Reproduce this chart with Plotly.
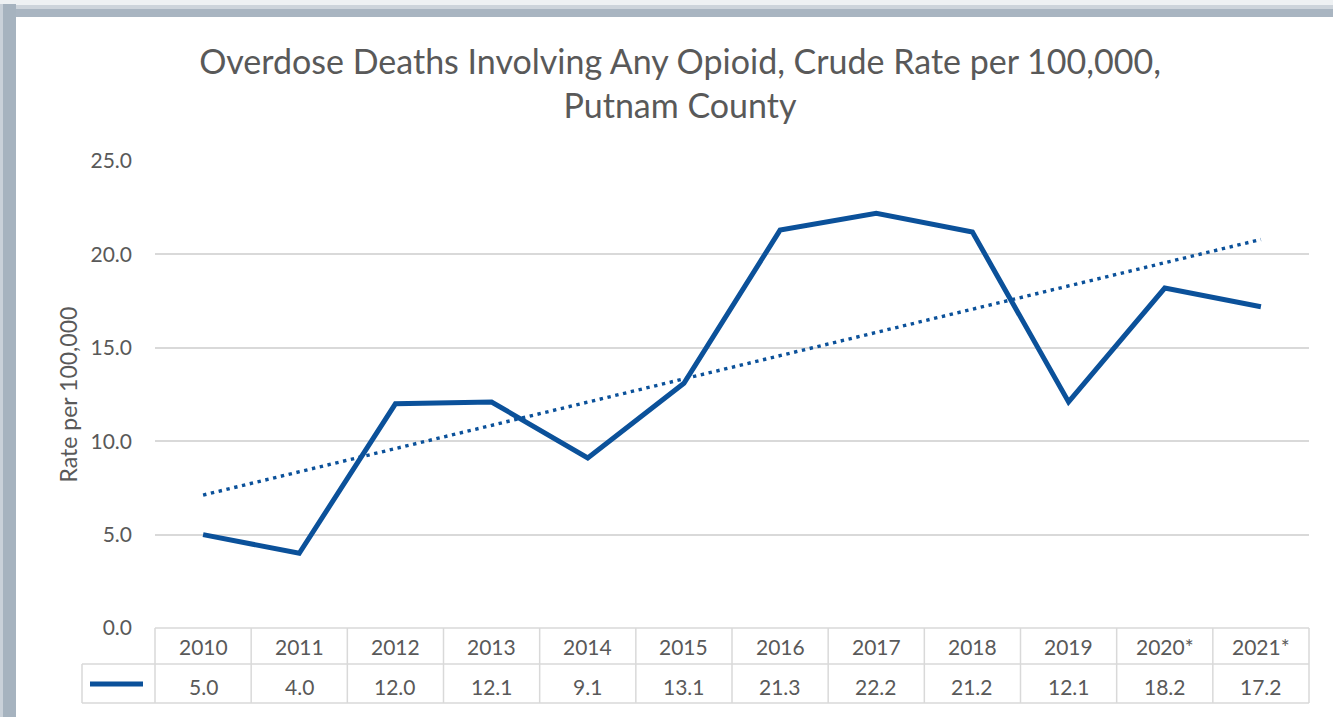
import numpy as np
import plotly.graph_objects as go

years = ["2010", "2011", "2012", "2013", "2014", "2015", "2016", "2017", "2018", "2019", "2020*", "2021*"]
rates = [5.0, 4.0, 12.0, 12.1, 9.1, 13.1, 21.3, 22.2, 21.2, 12.1, 18.2, 17.2]
y_ticks = [0, 5, 10, 15, 20, 25]
y_tick_labels = ["0.0", "5.0", "10.0", "15.0", "20.0", "25.0"]

W, H = 1333, 717
L, R, T, B = 155, 24, 161, 89
PW, PH = W - L - R, H - T - B
BLUE = "#0B519A"
TXT = "#595959"
GRID = "#D9D9D9"
FONT = "Lato"

def px_x(px):
    return (px - L) / PW

def px_y(py):
    return (H - B - py) / PH

xi = np.arange(len(rates))
slope, intercept = np.polyfit(xi, rates, 1)
trend = slope * xi + intercept

fig = go.Figure()
fig.add_trace(go.Scatter(x=xi, y=trend, mode="lines",
                         line=dict(color=BLUE, width=3.4, dash="3.4px,4.6px"),
                         hoverinfo="skip", showlegend=False))
fig.add_trace(go.Scatter(x=xi, y=rates, mode="lines",
                         line=dict(color=BLUE, width=5), showlegend=False))

shapes = []
# frame (shadow-like border)
shapes.append(dict(type="rect", xref="paper", yref="paper", x0=px_x(0), x1=px_x(W + 5),
                   y0=px_y(0), y1=px_y(17), fillcolor="#A9B5C1", line=dict(width=0), layer="below"))
shapes.append(dict(type="rect", xref="paper", yref="paper", x0=px_x(0), x1=px_x(W + 5),
                   y0=px_y(0), y1=px_y(5), fillcolor="#EEF1F3", line=dict(width=0), layer="below"))
shapes.append(dict(type="rect", xref="paper", yref="paper", x0=px_x(0), x1=px_x(W + 5),
                   y0=px_y(5), y1=px_y(9), fillcolor="#CDD4DB", line=dict(width=0), layer="below"))
shapes.append(dict(type="rect", xref="paper", yref="paper", x0=px_x(0), x1=px_x(16),
                   y0=px_y(4), y1=px_y(H + 5), fillcolor="#A6B3BF", line=dict(width=0), layer="below"))
shapes.append(dict(type="rect", xref="paper", yref="paper", x0=px_x(0), x1=px_x(3),
                   y0=px_y(4), y1=px_y(H + 5), fillcolor="#C9D1D9", line=dict(width=0), layer="below"))
shapes.append(dict(type="rect", xref="paper", yref="paper", x0=px_x(16), x1=px_x(W + 5),
                   y0=px_y(17), y1=px_y(H + 5), fillcolor="white", line=dict(width=0), layer="below"))

# data table lines
tl = dict(color=GRID, width=1.5)
row1 = px_y(H - B)
row2 = px_y(664)
row3 = px_y(703)
n = len(years)
shapes.append(dict(type="line", xref="paper", yref="paper", x0=0, x1=1, y0=row1, y1=row1, line=tl))
shapes.append(dict(type="line", xref="paper", yref="paper", x0=px_x(82), x1=1, y0=row2, y1=row2, line=tl))
shapes.append(dict(type="line", xref="paper", yref="paper", x0=px_x(82), x1=1, y0=row3, y1=row3, line=tl))
shapes.append(dict(type="line", xref="paper", yref="paper", x0=px_x(82), x1=px_x(82), y0=row2, y1=row3, line=tl))
for k in range(n + 1):
    xp = k / n
    shapes.append(dict(type="line", xref="paper", yref="paper", x0=xp, x1=xp, y0=row1, y1=row3, line=tl))
# legend key in table
shapes.append(dict(type="line", xref="paper", yref="paper", x0=px_x(90), x1=px_x(143),
                   y0=px_y(684), y1=px_y(684), line=dict(color=BLUE, width=5)))

annotations = []
for i, (yr, v) in enumerate(zip(years, rates)):
    annotations.append(dict(x=i, y=px_y(646), xref="x", yref="paper", text=yr, showarrow=False,
                            xanchor="center", yanchor="middle",
                            font=dict(family=FONT, size=21, color=TXT)))
    annotations.append(dict(x=i, y=px_y(686), xref="x", yref="paper", text=f"{v:.1f}", showarrow=False,
                            xanchor="center", yanchor="middle",
                            font=dict(family=FONT, size=21, color=TXT)))
annotations.append(dict(x=px_x(67), y=0.5, xref="paper", yref="paper", text="Rate per 100,000",
                        xanchor="center", yanchor="middle",
                        textangle=-90, showarrow=False, font=dict(family=FONT, size=23, color=TXT)))

fig.update_layout(
    width=W, height=H,
    margin=dict(l=L, r=R, t=T, b=B),
    paper_bgcolor="white", plot_bgcolor="white",
    title=dict(text="Overdose Deaths Involving Any Opioid, Crude Rate per 100,000,<br>Putnam County",
               x=680 / W, xanchor="center", y=1 - 74 / H, yanchor="middle", yref="container",
               font=dict(family=FONT, size=34, color=TXT)),
    xaxis=dict(range=[-0.5, n - 0.5], showticklabels=False, showgrid=False, zeroline=False,
               showline=False, ticks="", fixedrange=True),
    yaxis=dict(range=[0, 25], tickvals=y_ticks, ticktext=y_tick_labels, showgrid=True,
               gridcolor=GRID, gridwidth=1.5, zeroline=False, showline=False, ticks="",
               ticklabelstandoff=22, tickfont=dict(family=FONT, size=21, color=TXT)),
    shapes=shapes, annotations=annotations,
    showlegend=False,
)

fig.write_html("out.html", config={"displayModeBar": False},
               post_script="document.body.style.margin='0';document.body.style.overflow='hidden';")
